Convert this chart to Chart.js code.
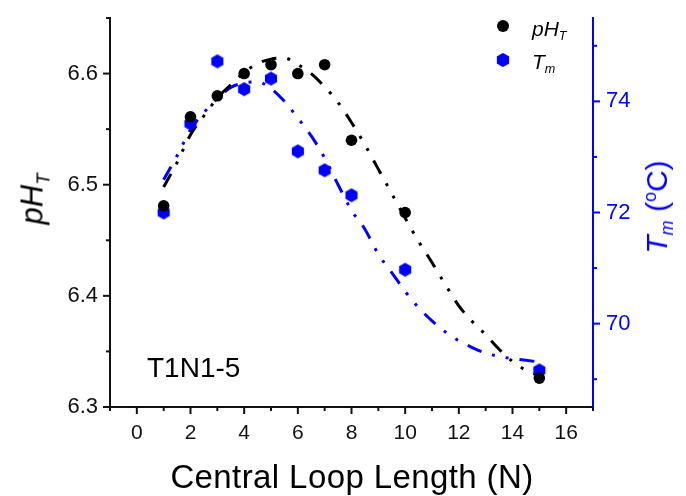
<!DOCTYPE html>
<html>
<head>
<meta charset="utf-8">
<script src="https://cdn.jsdelivr.net/npm/chart.js@4.4.0/dist/chart.umd.min.js"></script>
<style>
  body { margin: 0; background: #fff; }
  #wrap { position: relative; width: 686px; height: 496px; font-family: "Liberation Sans", Arial, sans-serif; }
  #wrap canvas { position: absolute; left: 0; top: 0; }
  .lbl { position: absolute; white-space: nowrap; line-height: 1; }
  .sub { font-size: 0.6em; position: relative; top: 0.35em; }
  .sup { font-size: 0.6em; position: relative; top: -0.6em; }
  #xtitle { left: 352px; top: 476px; font-size: 33px; letter-spacing: 0.4px; transform: translate(-50%, -50%); }
  #ytitle { left: 32px; top: 199px; font-size: 31px; transform: translate(-50%, -50%) rotate(-90deg); }
  #y1title { left: 657px; top: 207px; font-size: 30px; color: #0000ff; transform: translate(-50%, -50%) rotate(-90deg); }
  #note { left: 147px; top: 368px; font-size: 28px; transform: translateY(-50%); }
  .leg { left: 532px; font-size: 21px; font-style: italic; transform: translateY(-50%); }
  .mark { position: absolute; transform: translate(-50%, -50%); }
  #mk1 { left: 503px; top: 26px; width: 12px; height: 12px; border-radius: 50%; background: #000; }
  #mk2 { left: 503px; top: 60px; width: 13px; height: 14px; background: #0000ff;
         clip-path: polygon(50% 0, 100% 25%, 100% 75%, 50% 100%, 0 75%, 0 25%); }
</style>
</head>
<body>
<div id="wrap">
  <canvas id="chart" width="686" height="496"></canvas>
  <div class="lbl" id="xtitle">Central Loop Length (N)</div>
  <div class="lbl" id="ytitle"><i>pH<span class="sub">T</span></i></div>
  <div class="lbl" id="y1title"><i>T<span class="sub">m</span></i> (<span class="sup">o</span>C)</div>
  <div class="lbl" id="note">T1N1-5</div>
  <div class="mark" id="mk1"></div>
  <div class="mark" id="mk2"></div>
  <div class="lbl leg" style="top:28px">pH<span class="sub">T</span></div>
  <div class="lbl leg" style="top:61px">T<span class="sub">m</span></div>
</div>
<script>
// measured points
const loopLength = [1, 2, 3, 4, 5, 6, 7, 8, 10, 15];
const phValues = [6.481, 6.561, 6.580, 6.600, 6.608, 6.600, 6.608, 6.540, 6.475, 6.326];
const tmValues = [72.0, 73.6, 74.72, 74.22, 74.41, 73.1, 72.76, 72.31, 70.97, 69.16];

// fitted curves
const fitX = [1, 1.5, 2, 2.5, 3, 3.5, 4, 4.5, 5, 5.5, 6, 6.5, 7, 7.5, 8, 8.5, 9, 9.5, 10, 10.5, 11, 11.5, 12, 12.5, 13, 13.5, 14, 14.5, 15];
const phFit = [6.498, 6.520, 6.545, 6.562, 6.578, 6.590, 6.601, 6.609, 6.613, 6.614, 6.608, 6.600, 6.588, 6.574, 6.556, 6.536, 6.514, 6.492, 6.470, 6.449, 6.430, 6.410, 6.391, 6.377, 6.365, 6.352, 6.341, 6.333, 6.328];
const tmFit = [72.59, 73.02, 73.49, 73.80, 74.05, 74.25, 74.33, 74.35, 74.23, 74.00, 73.70, 73.38, 72.98, 72.50, 72.04, 71.70, 71.25, 70.92, 70.58, 70.29, 70.05, 69.85, 69.69, 69.57, 69.47, 69.41, 69.37, 69.34, 69.31];

// axis ticks
const xTicks = [0, 2, 4, 6, 8, 10, 12, 14, 16];
const phTicks = [6.3, 6.4, 6.5, 6.6];
const tmTicks = [70, 72, 74];

const BLUE = '#0000ff';
const INK = '#111';
const FONT = '"Liberation Sans", Arial, sans-serif';

function hexagon(r, color) {
    const c = document.createElement('canvas');
    const s = Math.ceil(r * 2) + 2;
    c.width = s; c.height = s;
    const g = c.getContext('2d');
    g.fillStyle = color;
    g.beginPath();
    for (let i = 0; i < 6; i++) {
        const a = Math.PI / 3 * i - Math.PI / 2;
        const px = s / 2 + r * Math.cos(a), py = s / 2 + r * Math.sin(a);
        if (i) g.lineTo(px, py); else g.moveTo(px, py);
    }
    g.closePath();
    g.fill();
    return c;
}

const pairs = (xs, ys) => xs.map((v, i) => ({ x: v, y: ys[i] }));

// major + minor tick marks, drawn outward from each axis
const axisTicks = {
    id: 'axisTicks',
    afterDraw(chart) {
        const { ctx, chartArea: a, scales } = chart;
        ctx.save();
        ctx.lineWidth = 2;
        const mark = (scale, majors, color, draw) => {
            const step = majors[1] - majors[0];
            const vals = [];
            for (let v = majors[0] - step / 2; v <= scale.max + 1e-9; v += step / 2) {
                if (v >= scale.min - 1e-9) vals.push(v);
            }
            ctx.strokeStyle = color;
            vals.forEach(v => {
                const isMajor = majors.some(m => Math.abs(m - v) < 1e-6);
                draw(scale.getPixelForValue(v), isMajor ? 7 : 4);
            });
        };
        mark(scales.x, xTicks, INK, (p, len) => {
            ctx.beginPath(); ctx.moveTo(p, a.bottom); ctx.lineTo(p, a.bottom + len); ctx.stroke();
        });
        mark(scales.y, phTicks, INK, (p, len) => {
            ctx.beginPath(); ctx.moveTo(a.left, p); ctx.lineTo(a.left - len, p); ctx.stroke();
        });
        mark(scales.y1, tmTicks, BLUE, (p, len) => {
            ctx.beginPath(); ctx.moveTo(a.right, p); ctx.lineTo(a.right + len, p); ctx.stroke();
        });
        ctx.restore();
    }
};

const dashes = [15, 11, 3, 11, 3, 11];

const noPadV = s => { s.paddingTop = 0; s.paddingBottom = 0; };

new Chart(document.getElementById('chart'), {
    type: 'scatter',
    data: {
        datasets: [
            {
                label: 'pH_T', data: pairs(loopLength, phValues), yAxisID: 'y',
                pointStyle: 'circle', pointRadius: 5.8, backgroundColor: '#000', borderWidth: 0, order: 0
            },
            {
                label: 'T_m', data: pairs(loopLength, tmValues), yAxisID: 'y1',
                pointStyle: hexagon(7, BLUE), pointRadius: 7, backgroundColor: BLUE, borderWidth: 0, order: 0
            },
            {
                label: 'pH fit', data: pairs(fitX, phFit), yAxisID: 'y', showLine: true,
                borderColor: '#000', borderWidth: 3, borderDash: dashes, pointRadius: 0,
                cubicInterpolationMode: 'monotone', order: 1
            },
            {
                label: 'Tm fit', data: pairs(fitX, tmFit), yAxisID: 'y1', showLine: true,
                borderColor: BLUE, borderWidth: 3, borderDash: dashes, pointRadius: 0,
                cubicInterpolationMode: 'monotone', order: 1
            }
        ]
    },
    options: {
        responsive: false,
        animation: false,
        devicePixelRatio: 1,
        layout: { padding: { top: 18, left: 0, right: 0, bottom: 0 } },
        plugins: { legend: { display: false }, tooltip: { enabled: false } },
        scales: {
            x: {
                type: 'linear', position: 'bottom', min: -1, max: 17,
                grid: { display: false, drawTicks: false },
                border: { display: true, color: INK, width: 2 },
                ticks: { color: INK, padding: 14, font: { family: FONT, size: 21 } },
                afterBuildTicks: s => { s.ticks = xTicks.map(v => ({ value: v })); },
                afterFit: s => { s.height = 89; s.paddingLeft = 0; s.paddingRight = 0; }
            },
            y: {
                type: 'linear', position: 'left', min: 6.3, max: 6.65,
                grid: { display: false, drawTicks: false },
                border: { display: true, color: INK, width: 2 },
                ticks: { color: INK, padding: 12, font: { family: FONT, size: 22 }, callback: v => v.toFixed(1) },
                afterBuildTicks: s => { s.ticks = phTicks.map(v => ({ value: v })); },
                afterFit: s => { s.width = 110; noPadV(s); }
            },
            y1: {
                type: 'linear', position: 'right', min: 68.5, max: 75.5,
                grid: { display: false, drawTicks: false },
                border: { display: true, color: BLUE, width: 2 },
                ticks: { color: BLUE, padding: 13, font: { family: FONT, size: 22 } },
                afterBuildTicks: s => { s.ticks = tmTicks.map(v => ({ value: v })); },
                afterFit: s => { s.width = 93; noPadV(s); }
            }
        }
    },
    plugins: [axisTicks]
});
</script>
</body>
</html>
